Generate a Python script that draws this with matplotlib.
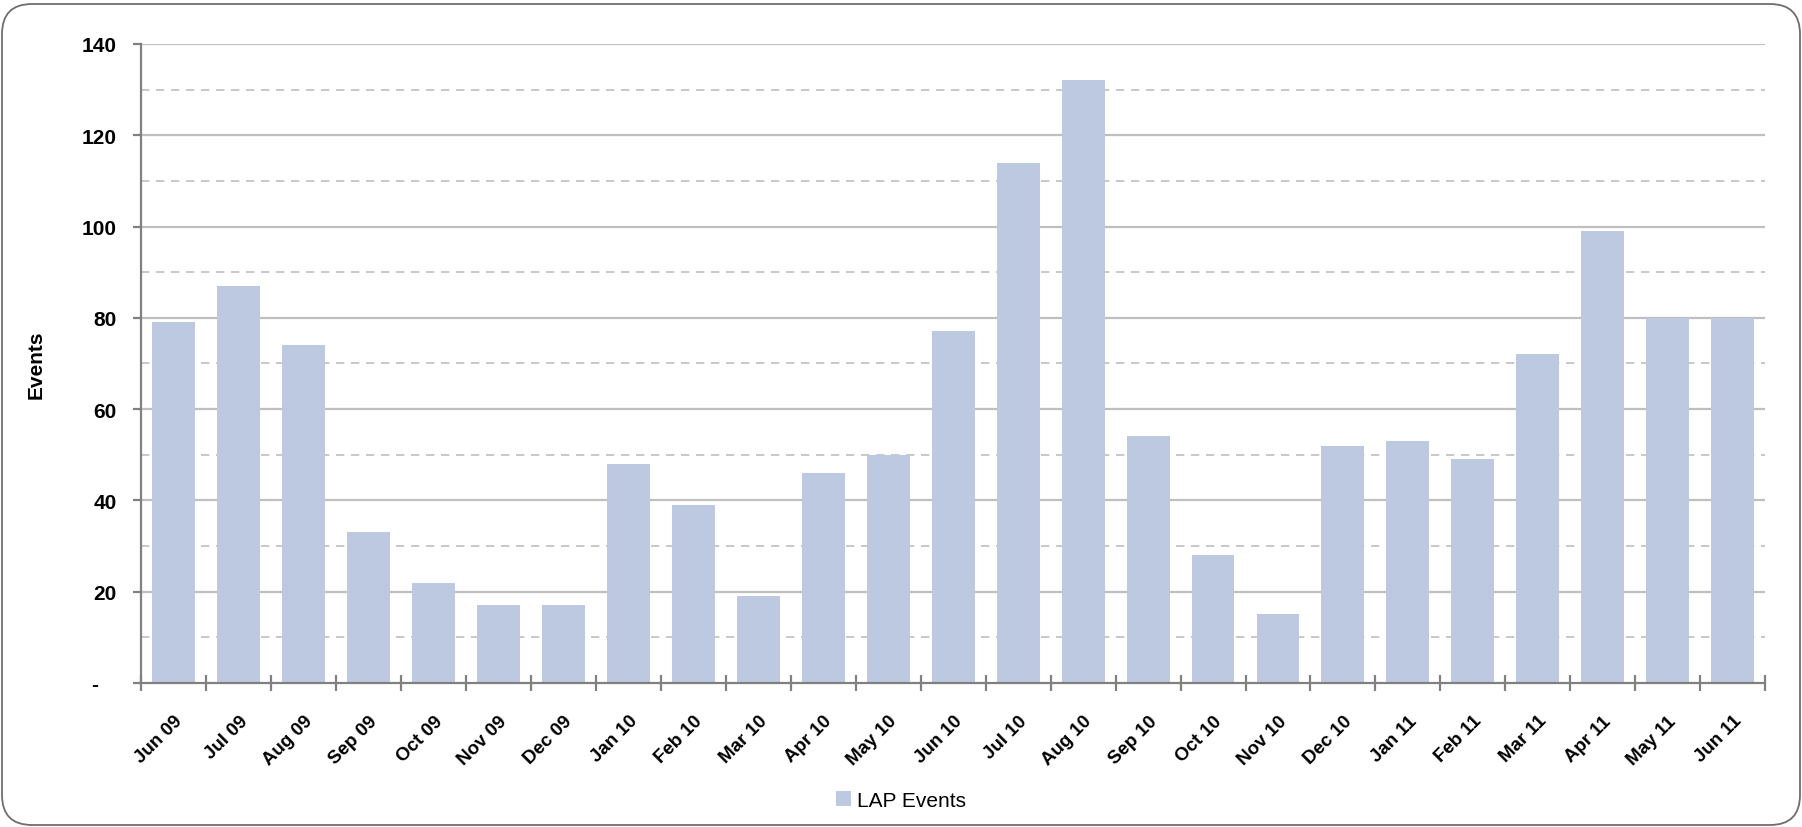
import matplotlib
matplotlib.use("Agg")
import matplotlib.pyplot as plt
from matplotlib.patches import FancyBboxPatch
from matplotlib.ticker import FixedLocator

months = ["Jun 09", "Jul 09", "Aug 09", "Sep 09", "Oct 09", "Nov 09", "Dec 09",
          "Jan 10", "Feb 10", "Mar 10", "Apr 10", "May 10", "Jun 10", "Jul 10",
          "Aug 10", "Sep 10", "Oct 10", "Nov 10", "Dec 10", "Jan 11", "Feb 11",
          "Mar 11", "Apr 11", "May 11", "Jun 11"]
lap_events = [79, 87, 74, 33, 22, 17, 17, 48, 39, 19, 46, 50, 77, 114,
              132, 54, 28, 15, 52, 53, 49, 72, 99, 80, 80]
y_ticks = [0, 20, 40, 60, 80, 100, 120, 140]
y_tick_labels = ["-   ", "20", "40", "60", "80", "100", "120", "140"]

plt.rcParams["font.family"] = ["Liberation Sans", "DejaVu Sans"]

W, H = 1802, 828
fig = plt.figure(figsize=(W / 100, H / 100), dpi=100)

# rounded outer frame, drawn in a pixel-scaled background axes
bg = fig.add_axes([0, 0, 1, 1], zorder=-5)
bg.set_xlim(0, W)
bg.set_ylim(0, H)
bg.axis("off")
bg.add_patch(FancyBboxPatch((2, 2), W - 4, H - 7,
                            boxstyle="round,pad=0,rounding_size=30",
                            facecolor="white", edgecolor="#6e6e6e",
                            linewidth=1.3))

ax = fig.add_axes([0.0785, 0.174, 0.9010, 0.7717])
ax.set_facecolor("none")

x = list(range(len(months)))
ax.bar(x, lap_events, width=0.66, color="#bdc9e1", linewidth=0, zorder=2,
       label="LAP Events")

ax.set_xlim(-0.5, len(months) - 0.5)
ax.set_ylim(0, 140)

# gridlines: solid at every 20, dashed halfway between
for v in range(20, 141, 20):
    ax.axhline(v, color="#bfbfbf", linewidth=1.6, zorder=1)
for v in range(10, 140, 20):
    ax.axhline(v, color="#bfbfbf", linewidth=1.2, linestyle=(0, (5, 4)), zorder=1)

for side in ["top", "right"]:
    ax.spines[side].set_visible(False)
for side in ["left", "bottom"]:
    ax.spines[side].set_color("#808080")
    ax.spines[side].set_linewidth(1.6)
    ax.spines[side].set_zorder(3)

ax.set_yticks(y_ticks)
ax.set_yticklabels(y_tick_labels, fontsize=15, fontweight="bold")
ax.tick_params(axis="y", length=6, width=1.6, color="#808080", pad=12)

ax.set_xticks(x)
ax.set_xticklabels(months, fontsize=13.5, fontweight="bold", rotation=45,
                   ha="right", rotation_mode="anchor")
ax.tick_params(axis="x", which="major", length=0, pad=21)
ax.xaxis.set_minor_locator(FixedLocator([i - 0.5 for i in range(len(months) + 1)]))
ax.tick_params(axis="x", which="minor", length=11, width=1.6, color="#808080",
               direction="inout")

ax.set_ylabel("Events", fontsize=15, fontweight="bold")
ax.yaxis.set_label_coords(-0.059, 0.5)

fig.legend(loc="center", bbox_to_anchor=(0.5, 0.032), frameon=False,
           fontsize=15, handlelength=0.75, handleheight=0.75,
           handletextpad=0.3)

fig.savefig("out.png", dpi=100)
